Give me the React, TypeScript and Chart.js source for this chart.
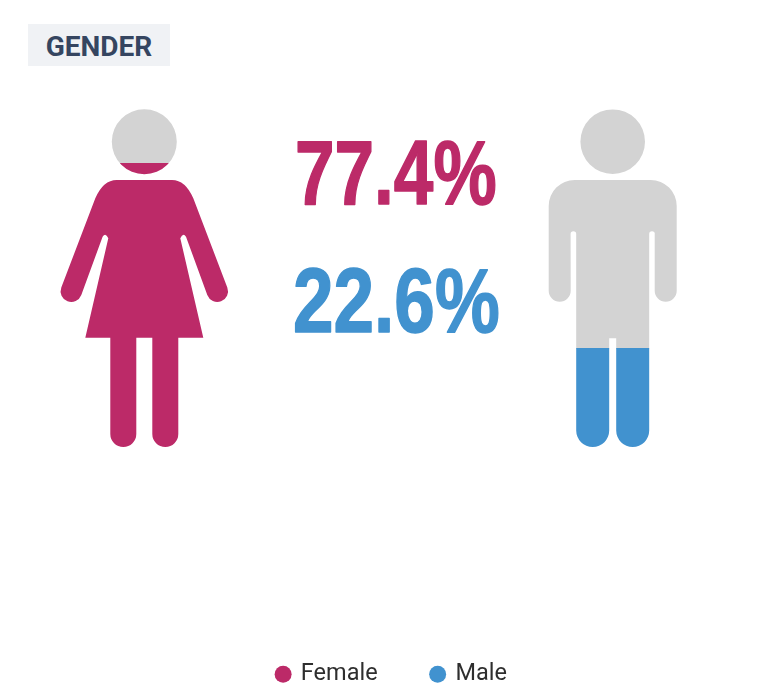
import React, { useEffect, useRef } from "react";
import { Chart, registerables } from "chart.js";

Chart.register(...registerables);

const chartTitle = "GENDER";
const categories = ["Female", "Male"];
const shares = [77.4, 22.6];
const fillColors = ["#BC2A68", "#4192CF"];
const emptyColor = "#D3D3D3";
const AXIS_MIN = -6.6;
const AXIS_MAX = 100;

function femalePath(cx: number, by: number): Path2D {
  const p = new Path2D();
  const X = (d: number) => cx + d;
  const Y = (d: number) => by + d;
  const a = (20.7 * Math.PI) / 180;
  p.moveTo(X(32.5), Y(-305.3));
  p.arc(X(0), Y(-305.3), 32.5, 0, Math.PI * 2);
  p.closePath();
  p.moveTo(X(0), Y(-267));
  p.lineTo(X(27.7), Y(-267));
  p.quadraticCurveTo(X(41), Y(-267), X(49), Y(-248.7));
  p.arc(X(73), Y(-155.7), 10.7, -a, Math.PI - a);
  p.lineTo(X(41.7), Y(-210.3));
  p.quadraticCurveTo(X(38.7), Y(-215), X(36), Y(-208.7));
  p.lineTo(X(59), Y(-109.3));
  p.lineTo(X(34), Y(-109.3));
  p.arc(X(21), Y(-13), 13, 0, Math.PI);
  p.lineTo(X(8), Y(-109.3));
  p.lineTo(X(-8), Y(-109.3));
  p.arc(X(-21), Y(-13), 13, 0, Math.PI);
  p.lineTo(X(-34), Y(-109.3));
  p.lineTo(X(-59), Y(-109.3));
  p.lineTo(X(-36), Y(-208.7));
  p.quadraticCurveTo(X(-38.7), Y(-215), X(-41.7), Y(-210.3));
  p.arc(X(-73), Y(-155.7), 10.7, a, Math.PI + a);
  p.lineTo(X(-49), Y(-248.7));
  p.quadraticCurveTo(X(-41), Y(-267), X(-27.7), Y(-267));
  p.closePath();
  return p;
}

function malePath(cx: number, by: number): Path2D {
  const p = new Path2D();
  const X = (d: number) => cx + d;
  const Y = (d: number) => by + d;
  p.moveTo(X(32.3), Y(-305.3));
  p.arc(X(0), Y(-305.3), 32.3, 0, Math.PI * 2);
  p.closePath();
  p.moveTo(X(0), Y(-267));
  p.lineTo(X(38), Y(-267));
  p.arcTo(X(64), Y(-267), X(64), Y(-241), 26);
  p.lineTo(X(64), Y(-156.3));
  p.arc(X(53), Y(-156.3), 11, 0, Math.PI);
  p.lineTo(X(42), Y(-213));
  p.arc(X(39.3), Y(-213), 2.8, 0, Math.PI, true);
  p.lineTo(X(36.5), Y(-16.5));
  p.arc(X(20), Y(-16.5), 16.5, 0, Math.PI);
  p.lineTo(X(3.5), Y(-108.7));
  p.lineTo(X(-3.5), Y(-108.7));
  p.lineTo(X(-3.5), Y(-16.5));
  p.arc(X(-20), Y(-16.5), 16.5, 0, Math.PI);
  p.lineTo(X(-36.5), Y(-213));
  p.arc(X(-39.3), Y(-213), 2.8, 0, Math.PI, true);
  p.lineTo(X(-42), Y(-156.3));
  p.arc(X(-53), Y(-156.3), 11, 0, Math.PI);
  p.lineTo(X(-64), Y(-241));
  p.arcTo(X(-64), Y(-267), X(-38), Y(-267), 26);
  p.closePath();
  return p;
}

const silhouettePlugin = {
  id: "silhouette",
  afterLayout(chart: any) {
    chart.legend.top -= 4;
    chart.legend.bottom -= 4;
    chart.legend.left += 2;
    chart.legend.right += 2;
  },
  beforeDatasetDraw(chart: any, args: any) {
    const gender = Math.floor(args.index / 2);
    const cx = chart.scales.x.getPixelForValue(gender);
    const by = chart.chartArea.bottom;
    chart.ctx.save();
    chart.ctx.clip(gender === 0 ? femalePath(cx, by) : malePath(cx, by));
  },
  afterDatasetDraw(chart: any) {
    chart.ctx.restore();
  },
  afterDraw(chart: any) {
    const ctx = chart.ctx;
    const rows = [
      { baseline: 204, left: 295, squeeze: 0.79 },
      { baseline: 331.7, left: 293, squeeze: 0.81 },
    ];
    shares.forEach((share, i) => {
      ctx.save();
      ctx.translate(rows[i].left, rows[i].baseline);
      ctx.scale(rows[i].squeeze, 1);
      ctx.font = 'bold 90px "Liberation Sans"';
      ctx.fillStyle = fillColors[i];
      ctx.strokeStyle = fillColors[i];
      ctx.lineWidth = 1.5;
      ctx.lineJoin = "round";
      ctx.textAlign = "left";
      ctx.textBaseline = "alphabetic";
      ctx.fillText(`${share}%`, 0, 0);
      ctx.strokeText(`${share}%`, 0, 0);
      ctx.restore();
    });
  },
};

export default function App() {
  const ref = useRef<HTMLCanvasElement | null>(null);
  useEffect(() => {
    const datasets: any[] = [];
    categories.forEach((name, i) => {
      datasets.push({
        label: name,
        data: categories.map((_, j) => (j === i ? [AXIS_MIN, shares[i]] : null)),
        backgroundColor: fillColors[i],
        borderWidth: 0,
        clip: false,
      });
      datasets.push({
        label: name + " rest",
        data: categories.map((_, j) => (j === i ? [shares[i], AXIS_MAX] : null)),
        backgroundColor: emptyColor,
        borderWidth: 0,
        clip: false,
      });
    });
    const spacer = (size: number, horizontal: boolean) => (axis: any) => {
      if (horizontal) axis.height = size;
      else axis.width = size;
    };
    const hidden = {
      grid: { display: false },
      border: { display: false },
      ticks: { display: false },
    };
    const chart = new Chart(ref.current as HTMLCanvasElement, {
      type: "bar",
      data: { labels: categories, datasets },
      plugins: [silhouettePlugin],
      options: {
        animation: false,
        responsive: false,
        devicePixelRatio: 1,
        layout: { padding: { top: 87, left: 0, right: 0, bottom: 0 } },
        datasets: { bar: { grouped: false, barThickness: 240 } },
        scales: {
          x: { type: "category", offset: false, ...hidden, afterFit: spacer(165.5, true) },
          y: { min: AXIS_MIN, max: AXIS_MAX, ...hidden, afterFit: spacer(144.3, false) },
          y2: { position: "right", ...hidden, afterFit: spacer(167.3, false) },
        },
        plugins: {
          tooltip: { enabled: false },
          title: { display: false },
          legend: {
            display: true,
            position: "bottom",
            align: "center",
            labels: {
              usePointStyle: true,
              pointStyle: "circle",
              boxWidth: 12,
              boxHeight: 12,
              padding: 54,
              color: "#2E2E2E",
              font: { family: "Roboto", size: 23.5 },
              filter: (item: any) => item.datasetIndex % 2 === 0,
            },
          },
        },
      } as any,
    });
    return () => chart.destroy();
  }, []);
  return (
    <div style={{ position: "fixed", left: 0, top: 0, width: 780, height: 700, background: "#fff", overflow: "hidden" }}>
      <canvas ref={ref} width={780} height={700} style={{ display: "block" }} />
      <div
        style={{
          position: "absolute",
          left: 28,
          top: 24,
          width: 142,
          height: 42,
          lineHeight: "45px",
          background: "#F0F2F5",
          color: "#354560",
          fontFamily: "Roboto",
          fontWeight: 700,
          fontSize: 28,
          textAlign: "center",
        }}
      >
        {chartTitle}
      </div>
    </div>
  );
}
